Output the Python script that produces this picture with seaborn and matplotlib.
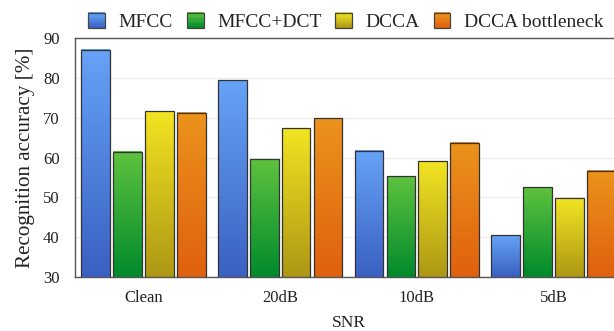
import numpy as np
import pandas as pd
import seaborn as sns
import matplotlib.pyplot as plt
from matplotlib.colors import LinearSegmentedColormap
from matplotlib.legend_handler import HandlerBase
from matplotlib.patches import Rectangle

# Data
snr_levels = ['Clean', '20dB', '10dB', '5dB']
methods = ['MFCC', 'MFCC+DCT', 'DCCA', 'DCCA bottleneck']
mfcc = [87.0, 79.4, 61.7, 40.5]
mfcc_dct = [61.5, 59.6, 55.3, 52.5]
dcca = [71.6, 67.4, 59.1, 49.8]
dcca_bottleneck = [71.2, 69.9, 63.7, 56.7]

# (top, bottom) gradient colours per method
grad_colors = {
    'MFCC': ('#66a3f7', '#3a60c2'),
    'MFCC+DCT': ('#5ec23e', '#008a2c'),
    'DCCA': ('#f2e422', '#ae9714'),
    'DCCA bottleneck': ('#eb931c', '#e0600e'),
}

df = pd.DataFrame({
    'snr': np.repeat(snr_levels, len(methods)),
    'method': methods * len(snr_levels),
    'acc': np.array([mfcc, mfcc_dct, dcca, dcca_bottleneck]).T.ravel(),
})

sns.set_style('white')
plt.rcParams['font.family'] = ['Liberation Serif', 'DejaVu Serif']

fig = plt.figure(figsize=(6.14, 3.31), dpi=100)
# axes runs a little past the right edge, like the reference crop
ax = fig.add_axes([75 / 614, 54 / 331, 547 / 614, 239 / 331])

sns.barplot(data=df, x='snr', y='acc', hue='method', hue_order=methods,
            order=snr_levels, width=0.934, gap=0.1, ax=ax, legend=False,
            edgecolor='#333333', linewidth=0.9, saturation=1)

ymin, ymax = 30, 90
grad = np.linspace(0, 1, 256).reshape(-1, 1)
for cont, m in zip(ax.containers, methods):
    top_c, bot_c = grad_colors[m]
    cmap = LinearSegmentedColormap.from_list(m, [bot_c, top_c])
    for bar in cont:
        x0, w, h = bar.get_x(), bar.get_width(), bar.get_height()
        ax.imshow(grad, extent=[x0, x0 + w, ymin, h], origin='lower',
                  cmap=cmap, aspect='auto', zorder=2)
        bar.set_facecolor('none')
        bar.set_zorder(3)

ax.set_xlim(-0.5, 3.5)
ax.set_ylim(ymin, ymax)
ax.set_yticks(range(30, 91, 10))
ax.yaxis.grid(True, color='#ececec', linewidth=0.8)
ax.set_axisbelow(True)
ax.tick_params(axis='y', length=0, labelsize=12, colors='#222222', pad=11)
ax.tick_params(axis='x', length=0, labelsize=12, colors='#222222', pad=9)
ax.set_xlabel('SNR', fontsize=12.5, color='#222222', labelpad=7)
ax.set_ylabel('Recognition accuracy [%]', fontsize=15.2, color='#222222', labelpad=6)
for side in ['top', 'left', 'bottom']:
    ax.spines[side].set_color('#555555')
    ax.spines[side].set_linewidth(1.0)
ax.spines['right'].set_visible(False)


class GradientHandler(HandlerBase):
    def create_artists(self, legend, orig_handle, xdescent, ydescent,
                       width, height, fontsize, trans):
        top_c, bot_c = grad_colors[orig_handle.get_label()]
        cmap = LinearSegmentedColormap.from_list('h', [bot_c, top_c])
        n = 12
        arts = []
        for i in range(n):
            r = Rectangle((-xdescent, -ydescent + height * i / n), width,
                          height / n + 0.3, facecolor=cmap(i / (n - 1)),
                          edgecolor='none', transform=trans)
            arts.append(r)
        arts.append(Rectangle((-xdescent, -ydescent), width, height,
                              facecolor='none', edgecolor='#444444',
                              linewidth=0.9, transform=trans))
        return arts


handles = [Rectangle((0, 0), 1, 1, label=m) for m in methods]
fig.legend(handles=handles, labels=methods, loc='center',
           bbox_to_anchor=(346 / 614, 1 - 22 / 331), ncol=4, frameon=False,
           fontsize=14, handlelength=0.85, handleheight=0.85,
           handletextpad=0.7, columnspacing=0.72,
           handler_map={Rectangle: GradientHandler()})

plt.savefig('out.png', dpi=100)
